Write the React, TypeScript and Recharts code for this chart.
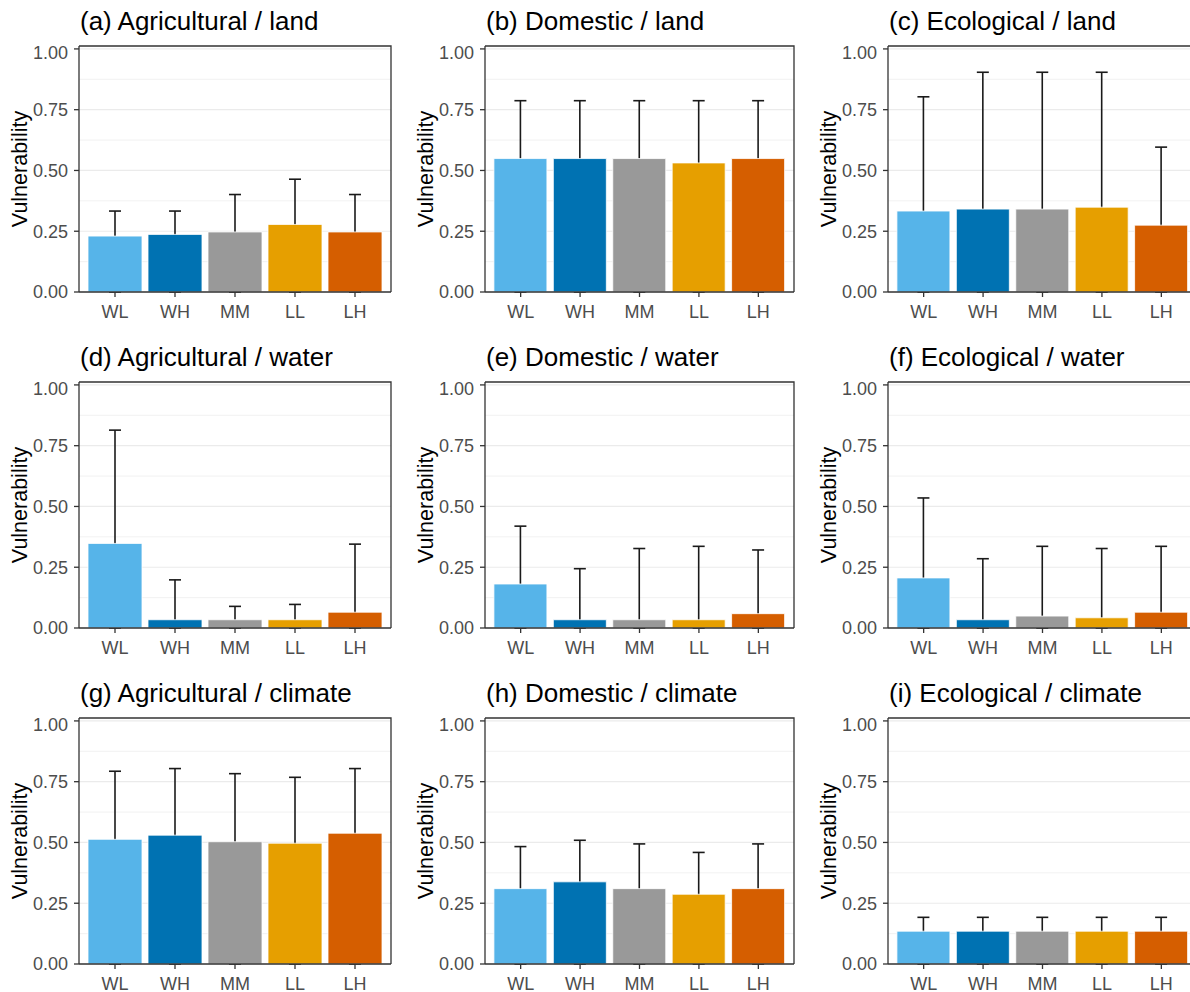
import React from 'react';
import { BarChart, Bar, XAxis, YAxis, CartesianGrid, ErrorBar, Cell } from 'recharts';

const categories = ['WL', 'WH', 'MM', 'LL', 'LH'];
const barColors = ['#56B4E9', '#0072B2', '#999999', '#E69F00', '#D55E00'];
const yTicks = [0, 0.25, 0.5, 0.75, 1];
const minorTicks = [0.125, 0.375, 0.625, 0.875];

// mean vulnerability (bar height) and upper whisker per panel
const agriLandMean = [0.23, 0.237, 0.247, 0.278, 0.247];
const agriLandUpper = [0.333, 0.333, 0.401, 0.464, 0.401];
const domLandMean = [0.549, 0.549, 0.549, 0.531, 0.549];
const domLandUpper = [0.787, 0.787, 0.787, 0.787, 0.787];
const ecoLandMean = [0.333, 0.341, 0.341, 0.349, 0.275];
const ecoLandUpper = [0.803, 0.904, 0.904, 0.904, 0.596];
const agriWaterMean = [0.348, 0.034, 0.034, 0.034, 0.065];
const agriWaterUpper = [0.814, 0.198, 0.089, 0.097, 0.345];
const domWaterMean = [0.181, 0.034, 0.034, 0.034, 0.059];
const domWaterUpper = [0.419, 0.244, 0.327, 0.336, 0.321];
const ecoWaterMean = [0.206, 0.034, 0.049, 0.042, 0.065];
const ecoWaterUpper = [0.535, 0.285, 0.336, 0.327, 0.336];
const agriClimateMean = [0.513, 0.53, 0.503, 0.497, 0.538];
const agriClimateUpper = [0.793, 0.804, 0.783, 0.768, 0.804];
const domClimateMean = [0.31, 0.338, 0.31, 0.287, 0.31];
const domClimateUpper = [0.483, 0.509, 0.494, 0.459, 0.494];
const ecoClimateMean = [0.135, 0.135, 0.135, 0.135, 0.135];
const ecoClimateUpper = [0.192, 0.192, 0.192, 0.192, 0.192];

const panels = [
  { title: '(a) Agricultural / land', mean: agriLandMean, upper: agriLandUpper },
  { title: '(b) Domestic / land', mean: domLandMean, upper: domLandUpper },
  { title: '(c) Ecological / land', mean: ecoLandMean, upper: ecoLandUpper },
  { title: '(d) Agricultural / water', mean: agriWaterMean, upper: agriWaterUpper },
  { title: '(e) Domestic / water', mean: domWaterMean, upper: domWaterUpper },
  { title: '(f) Ecological / water', mean: ecoWaterMean, upper: ecoWaterUpper },
  { title: '(g) Agricultural / climate', mean: agriClimateMean, upper: agriClimateUpper },
  { title: '(h) Domestic / climate', mean: domClimateMean, upper: domClimateUpper },
  { title: '(i) Ecological / climate', mean: ecoClimateMean, upper: ecoClimateUpper },
];

const FONT = '"Liberation Sans", Arial, sans-serif';
const colLeft = [79, 485, 888];
const colWidth = [312, 309, 309];
const rowTop = [45.5, 381.5, 717.5];
const PLOT_H = 246;
const AXIS_W = 79;
const DARK = '#333333';

function Panel({ title, mean, upper, col, row }: any) {
  const data = categories.map((cat, i) => ({
    cat,
    value: mean[i],
    err: [mean[i], upper[i] - mean[i]],
  }));
  const w = colWidth[col];
  const pad = w / 52;
  const axisLine = { stroke: DARK, strokeWidth: 1.3 };
  const tickStyle = { fill: '#4D4D4D', fontSize: 18, fontFamily: FONT };

  return (
    <>
      <div
        style={{
          position: 'absolute',
          left: colLeft[col] + 1,
          top: rowTop[row] - 38,
          fontSize: 26,
          lineHeight: 1,
          fontFamily: FONT,
          color: '#000',
          whiteSpace: 'nowrap',
        }}
      >
        {title}
      </div>
      <div style={{ position: 'absolute', left: colLeft[col] - AXIS_W, top: rowTop[row] - 4 }}>
        <BarChart
          width={AXIS_W + w + 4}
          height={4 + PLOT_H + 40}
          data={data}
          margin={{ top: 4, right: 4, left: 0, bottom: 0 }}
          barCategoryGap="5%"
        >
          <CartesianGrid xAxisId="main" vertical={false} stroke="#EBEBEB" strokeWidth={0.7} horizontalValues={minorTicks} />
          <CartesianGrid xAxisId="main" vertical={false} stroke="#EBEBEB" strokeWidth={1.2} horizontalValues={yTicks} />
          <XAxis
            xAxisId="main"
            dataKey="cat"
            interval={0}
            height={40}
            padding={{ left: pad, right: pad }}
            tick={tickStyle}
            tickSize={5}
            tickMargin={8}
            tickLine={axisLine}
            axisLine={axisLine}
          />
          <XAxis
            xAxisId="err"
            orientation="top"
            dataKey="cat"
            height={0}
            padding={{ left: pad, right: pad }}
            tick={false}
            tickLine={false}
            axisLine={false}
          />
          <YAxis
            width={AXIS_W}
            domain={[0, 1.012]}
            ticks={yTicks}
            allowDataOverflow
            tickFormatter={(v: number) => v.toFixed(2)}
            tick={tickStyle}
            tickSize={5}
            tickMargin={6}
            tickLine={axisLine}
            axisLine={axisLine}
            label={{
              content: (p: any) => {
                const vb = p.viewBox;
                const x = vb.x + vb.width - 52;
                const y = vb.y + vb.height / 2;
                return (
                  <text
                    x={x}
                    y={y}
                    transform={`rotate(-90 ${x} ${y})`}
                    textAnchor="middle"
                    fontSize={21.5}
                    fontFamily={FONT}
                    fill="#000"
                  >
                    Vulnerability
                  </text>
                );
              },
            }}
          />
          {/* whiskers sit on a twin axis so the coloured bars paint over their lower part */}
          <Bar xAxisId="err" dataKey="value" fill="none" isAnimationActive={false}>
            <ErrorBar
              dataKey="err"
              direction="y"
              width={6}
              stroke="#1a1a1a"
              strokeWidth={1.6}
              isAnimationActive={false}
              {...({ zIndex: 250 } as any)}
            />
          </Bar>
          <Bar xAxisId="main" dataKey="value" stroke="#ffffff" strokeWidth={0.8} isAnimationActive={false}>
            {data.map((d, i) => (
              <Cell key={d.cat} fill={barColors[i]} />
            ))}
          </Bar>
        </BarChart>
        {/* top and right sides of the panel frame */}
        <svg
          width={w + 4}
          height={PLOT_H + 4}
          style={{ position: 'absolute', left: AXIS_W, top: 4, overflow: 'visible', pointerEvents: 'none' }}
        >
          <path d={`M0,0 H${w} V${PLOT_H}`} fill="none" stroke={DARK} strokeWidth={1.3} />
        </svg>
      </div>
    </>
  );
}

export default function App() {
  return (
    <div
      style={{
        position: 'absolute',
        left: 0,
        top: 0,
        width: 1190,
        height: 992,
        overflow: 'hidden',
        background: '#fff',
      }}
    >
      {panels.map((p, i) => (
        <Panel key={p.title} {...p} col={i % 3} row={Math.floor(i / 3)} />
      ))}
    </div>
  );
}
